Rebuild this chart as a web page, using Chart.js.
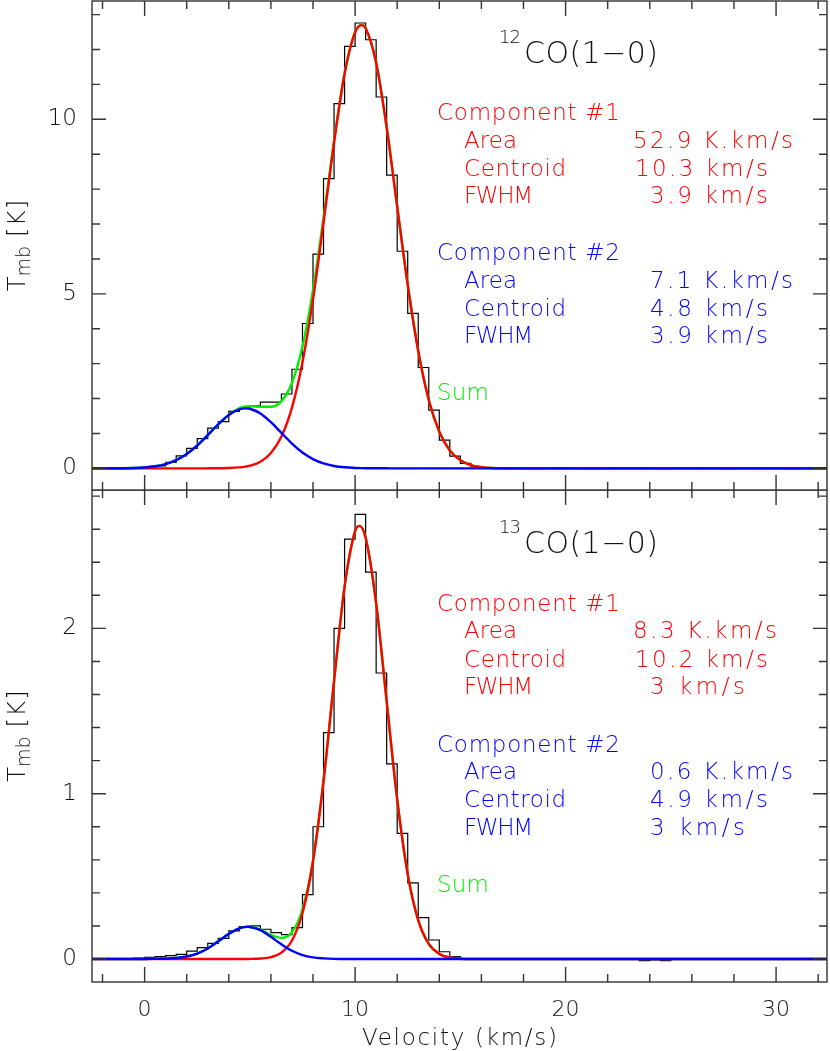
<!DOCTYPE html>
<html>
<head>
<meta charset="utf-8">
<title>CO(1-0) Gaussian fits</title>
<script src="https://cdn.jsdelivr.net/npm/chart.js@4/dist/chart.umd.min.js"></script>
<style>
  html, body { margin: 0; padding: 0; background: #fff; }
  #wrap { position: relative; width: 830px; height: 1051px; overflow: hidden; }
  canvas { position: absolute; left: 0; }
  #topPanel { top: 0; }
  #botPanel { top: 490px; }
</style>
</head>
<body>
<div id="wrap">
  <canvas id="topPanel" width="830" height="492"></canvas>
  <canvas id="botPanel" width="830" height="561"></canvas>
</div>
<script>
// spectrum channels: 0.5 km/s wide, first centre at -2.25 km/s
const channelStart = -2.25;
const channelWidth = 0.5;

// 12CO(1-0) spectrum, Tmb [K]
const topHist = [
  0, 0.01, -0.01, 0.01, 0.02, 0.03, 0.07, 0.17, 0.36, 0.57,
  0.85, 1.15, 1.34, 1.63, 1.74, 1.79, 1.90, 1.90, 2.13, 2.84,
  4.15, 6.14, 8.30, 10.45, 12.09, 12.76, 12.28, 10.64, 8.40, 6.22,
  4.44, 2.89, 1.67, 0.81, 0.35, 0.14, 0.05, 0.02, 0.01, 0,
  0.01, 0, -0.01, 0, 0.01, 0, 0, -0.01, 0, 0.01,
  0, 0, 0.01, 0, -0.01, 0, 0, 0.01, 0, 0,
  -0.01, 0, 0, 0.01, 0, 0, -0.01, 0, 0, 0
];

// 13CO(1-0) spectrum, Tmb [K]
const botHist = [
  0, 0, 0, 0, 0.005, 0.01, 0.014, 0.02, 0.028, 0.048,
  0.069, 0.095, 0.125, 0.17, 0.196, 0.20, 0.18, 0.16, 0.147, 0.19,
  0.39, 0.80, 1.37, 2.00, 2.54, 2.69, 2.34, 1.73, 1.18, 0.76,
  0.46, 0.25, 0.115, 0.044, 0.014, 0.003, 0, 0, 0, 0,
  0, 0, 0, 0, 0, 0, 0, 0, 0, 0,
  0, 0, -0.01, -0.006, -0.01, 0, 0, 0, 0, 0,
  0, 0, 0, 0, 0, 0, 0, 0, 0, 0
];

// fitted curves (12CO)
const topFitVel = [-2.5, -1, -0.5, 0, 0.5, 1, 1.5, 2, 2.5, 3, 3.5, 4, 4.5, 4.8, 5, 5.5, 6, 6.5, 7, 7.5,
  8, 8.5, 9, 9.5, 10, 10.3, 10.5, 11, 11.5, 12, 12.5, 13, 13.5, 14, 14.5, 15, 15.5, 16, 16.5, 17, 18, 32.5];
const topComp1 = [0, 0, 0, 0, 0, 0, 0, 0, 0, 0.001, 0.003, 0.009, 0.028, 0.051, 0.076, 0.19, 0.44, 0.91, 1.74, 3.04,
  4.84, 7.04, 9.33, 11.30, 12.49, 12.70, 12.61, 11.62, 9.77, 7.50, 5.26, 3.36, 1.96, 1.05, 0.51, 0.23, 0.09, 0.034, 0.011, 0.003, 0, 0];
const topComp2 = [0, 0.004, 0.010, 0.026, 0.059, 0.124, 0.236, 0.412, 0.655, 0.953, 1.264, 1.531, 1.692, 1.720, 1.707, 1.573, 1.323, 1.016, 0.712, 0.455,
  0.266, 0.142, 0.069, 0.031, 0.012, 0.007, 0.005, 0.002, 0.001, 0, 0, 0, 0, 0, 0, 0, 0, 0, 0, 0, 0, 0];
const topSum = [0, 0.004, 0.010, 0.026, 0.059, 0.124, 0.236, 0.412, 0.655, 0.954, 1.267, 1.540, 1.720, 1.771, 1.783, 1.763, 1.763, 1.926, 2.452, 3.495,
  5.106, 7.182, 9.399, 11.331, 12.502, 12.707, 12.615, 11.622, 9.771, 7.50, 5.26, 3.36, 1.96, 1.05, 0.51, 0.23, 0.09, 0.034, 0.011, 0.003, 0, 0];

// fitted curves (13CO)
const botFitVel = [-2.5, -1, -0.5, 0, 0.5, 1, 1.5, 2, 2.5, 3, 3.5, 4, 4.5, 4.9, 5, 5.5, 6, 6.5, 7, 7.5,
  8, 8.5, 9, 9.5, 10, 10.2, 10.5, 11, 11.5, 12, 12.5, 13, 13.5, 14, 14.5, 15, 15.5, 16, 16.5, 17, 18, 32.5];
const botComp1 = [0, 0, 0, 0, 0, 0, 0, 0, 0, 0, 0, 0, 0, 0, 0.001, 0.003, 0.011, 0.039, 0.112, 0.277,
  0.590, 1.076, 1.681, 2.253, 2.588, 2.620, 2.548, 2.151, 1.557, 0.966, 0.513, 0.234, 0.091, 0.031, 0.009, 0.002, 0, 0, 0, 0, 0, 0];
const botComp2 = [0, 0, 0, 0, 0.001, 0.002, 0.006, 0.015, 0.033, 0.064, 0.107, 0.152, 0.186, 0.195, 0.194, 0.175, 0.134, 0.089, 0.050, 0.024,
  0.010, 0.004, 0.001, 0, 0, 0, 0, 0, 0, 0, 0, 0, 0, 0, 0, 0, 0, 0, 0, 0, 0, 0];
const botSum = [0, 0, 0, 0, 0.001, 0.002, 0.006, 0.015, 0.033, 0.064, 0.107, 0.152, 0.186, 0.195, 0.195, 0.178, 0.145, 0.128, 0.162, 0.301,
  0.600, 1.080, 1.682, 2.253, 2.588, 2.620, 2.548, 2.151, 1.557, 0.966, 0.513, 0.234, 0.091, 0.031, 0.009, 0.002, 0, 0, 0, 0, 0, 0];

// axes
const xTicks = [0, 10, 20, 30];
const topYTicks = [0, 5, 10];
const botYTicks = [0, 1, 2];

// labels
const rowNames = ['Area', 'Centroid', 'FWHM'];
const topComp1Text = ['52.9 K.km/s', '10.3 km/s', '3.9 km/s'];
const topComp2Text = ['7.1 K.km/s', '4.8 km/s', '3.9 km/s'];
const botComp1Text = ['8.3 K.km/s', '10.2 km/s', '3 km/s'];
const botComp2Text = ['0.6 K.km/s', '4.9 km/s', '3 km/s'];

const FAMILY = '"DejaVu Sans", sans-serif';
const WEIGHT = '200';
const font = size => WEIGHT + ' ' + size + 'px ' + FAMILY;

const channelVel = topHist.map((_, i) => channelStart + i * channelWidth);

// stretch a string to the width it has in the picture
function fitText(ctx, text, x, y, w) {
  ctx.letterSpacing = '0px';
  const m = ctx.measureText(text).width;
  if (w && text.length > 1) ctx.letterSpacing = ((w - m) / (text.length - 1)).toFixed(2) + 'px';
  ctx.fillText(text, x, y);
  ctx.letterSpacing = '0px';
}

function drawBlock(ctx, color, head, names, values, rows, valPos, oy) {
  ctx.fillStyle = color;
  fitText(ctx, head, 437, rows[0] - oy, 183);
  const nameW = [53, 102, 69];
  for (let i = 0; i < 3; i++) {
    fitText(ctx, names[i], 464, rows[i + 1] - oy, nameW[i]);
    fitText(ctx, values[i], valPos[i][0], rows[i + 1] - oy, valPos[i][1]);
  }
}

// frame with inward ticks, annotations and axis titles
function makeDeco(p) {
  return {
    id: 'deco',
    afterDraw(chart) {
      const { ctx, chartArea: a, scales: { x, y } } = chart;
      const oy = p.top;
      ctx.save();
      ctx.strokeStyle = '#333';
      ctx.lineWidth = 1.4;
      ctx.strokeRect(a.left, a.top, a.right - a.left, a.bottom - a.top);
      ctx.beginPath();
      for (let v = -2; v <= 32; v += 2) {
        const px = x.getPixelForValue(v);
        const len = v % 10 === 0 ? 15 : 8;
        ctx.moveTo(px, a.bottom); ctx.lineTo(px, a.bottom - len);
        ctx.moveTo(px, a.top); ctx.lineTo(px, a.top + len);
      }
      const n0 = Math.ceil(y.min / p.yMinor - 1e-6), n1 = Math.floor(y.max / p.yMinor + 1e-6);
      for (let i = n0; i <= n1; i++) {
        const v = i * p.yMinor;
        const r = v / p.yMajor;
        const len = Math.abs(r - Math.round(r)) < 1e-6 ? 14 : 8;
        const py = y.getPixelForValue(v);
        ctx.moveTo(a.left, py); ctx.lineTo(a.left + len, py);
        ctx.moveTo(a.right, py); ctx.lineTo(a.right - len, py);
      }
      ctx.stroke();

      ctx.textAlign = 'left';
      ctx.textBaseline = 'alphabetic';
      ctx.fillStyle = '#111';
      ctx.font = font(18);
      fitText(ctx, p.iso, 499, p.superY - oy, 22);
      ctx.font = font(30);
      fitText(ctx, 'CO(1\u22120)', 524, p.titleY - oy, 134);

      ctx.font = font(23);
      drawBlock(ctx, '#ff0000', 'Component #1', rowNames, p.comp1, p.rows1, p.val1, oy);
      drawBlock(ctx, '#0000ff', 'Component #2', rowNames, p.comp2, p.rows2, p.val2, oy);
      ctx.fillStyle = '#00ee00';
      fitText(ctx, 'Sum', 437, p.sumY - oy, 52);

      // y title: T_mb [K]
      ctx.fillStyle = '#111';
      ctx.translate(25, (a.top + a.bottom) / 2);
      ctx.rotate(-Math.PI / 2);
      ctx.font = font(24);
      const wT = ctx.measureText('T').width;
      const wK = ctx.measureText(' [K]').width + 4;
      ctx.font = font(19);
      const wS = ctx.measureText('mb').width;
      let u = -(wT + wS + wK) / 2;
      ctx.font = font(24);
      ctx.fillText('T', u, 0); u += wT;
      ctx.font = font(19);
      ctx.fillText('mb', u, 5); u += wS;
      ctx.font = font(24);
      fitText(ctx, ' [K]', u, 0, wK);
      ctx.setTransform(1, 0, 0, 1, 0, 0);

      if (p.xTitle) {
        ctx.font = font(23);
        ctx.fillStyle = '#111';
        fitText(ctx, 'Velocity (km/s)', 362, 1045 - oy, 195);
      }
      ctx.restore();
    }
  };
}

const pts = (xs, ys) => ys.map((v, i) => ({ x: xs[i], y: v }));

function panelSets(hist, vel, c1, c2, sum) {
  const curve = { borderWidth: 2.4, cubicInterpolationMode: 'monotone', pointRadius: 0, fill: false };
  return [
    Object.assign({ label: 'Component #2', data: pts(vel, c2), borderColor: '#0000ff', order: 1 }, curve),
    Object.assign({ label: 'Component #1', data: pts(vel, c1), borderColor: '#ff0000', order: 2 }, curve),
    Object.assign({ label: 'Sum', data: pts(vel, sum), borderColor: '#00ee00', order: 3 }, curve),
    { label: 'Spectrum', data: pts(channelVel, hist), borderColor: '#000', borderWidth: 1.2,
      stepped: 'middle', pointRadius: 0, fill: false, order: 4 }
  ];
}

function makeChart(id, p, datasets, yMin, yMax, yTicks) {
  const tickFont = { family: FAMILY, size: 23, weight: WEIGHT };
  return new Chart(document.getElementById(id), {
    type: 'line',
    data: { datasets },
    options: {
      responsive: false,
      animation: false,
      events: [],
      layout: { padding: p.padding },
      plugins: { legend: { display: false }, tooltip: { enabled: false } },
      scales: {
        x: {
          type: 'linear', min: -2.5, max: 32.42, display: p.xTitle,
          afterBuildTicks: s => { s.ticks = xTicks.map(v => ({ value: v })); },
          afterFit: s => {
            s.height = p.xTitle ? 69 : 0;
            s.paddingLeft = 0; s.paddingRight = 0;
          },
          grid: { display: false, drawTicks: false },
          border: { display: false },
          ticks: { padding: 15, color: '#111', font: { family: FAMILY, size: 22, weight: WEIGHT }, maxRotation: 0, autoSkip: false }
        },
        y: {
          type: 'linear', min: yMin, max: yMax,
          afterBuildTicks: s => { s.ticks = yTicks.map(v => ({ value: v })); },
          afterFit: s => {
            s.width = 92;
            s.paddingTop = 0; s.paddingBottom = 0;
          },
          grid: { display: false, drawTicks: false },
          border: { display: false },
          ticks: { padding: 15, color: '#111', font: tickFont, autoSkip: false }
        }
      }
    },
    plugins: [makeDeco(p)]
  });
}

const topLayout = {
  top: 0, padding: { top: 1, right: 3, bottom: 2, left: 0 }, xTitle: false,
  yMinor: 1, yMajor: 5, iso: '12', superY: 43, titleY: 63,
  rows1: [120, 148, 176, 203], rows2: [260, 288, 316, 343], sumY: 400,
  comp1: topComp1Text, comp2: topComp2Text,
  val1: [[633, 160], [635, 133], [650, 118]], val2: [[650, 143], [650, 118], [650, 118]]
};
const botLayout = {
  top: 490, padding: { top: 0, right: 3, bottom: 0, left: 0 }, xTitle: true,
  yMinor: 0.2, yMajor: 1, iso: '13', superY: 533, titleY: 553,
  rows1: [611, 638, 667, 694], rows2: [752, 779, 807, 835], sumY: 892,
  comp1: botComp1Text, comp2: botComp2Text,
  val1: [[633, 144], [635, 133], [650, 95]], val2: [[650, 143], [650, 118], [650, 95]]
};

makeChart('topPanel', topLayout, panelSets(topHist, topFitVel, topComp1, topComp2, topSum), -0.62, 13.39, topYTicks);
makeChart('botPanel', botLayout, panelSets(botHist, botFitVel, botComp1, botComp2, botSum), -0.139, 2.837, botYTicks);
</script>
</body>
</html>
